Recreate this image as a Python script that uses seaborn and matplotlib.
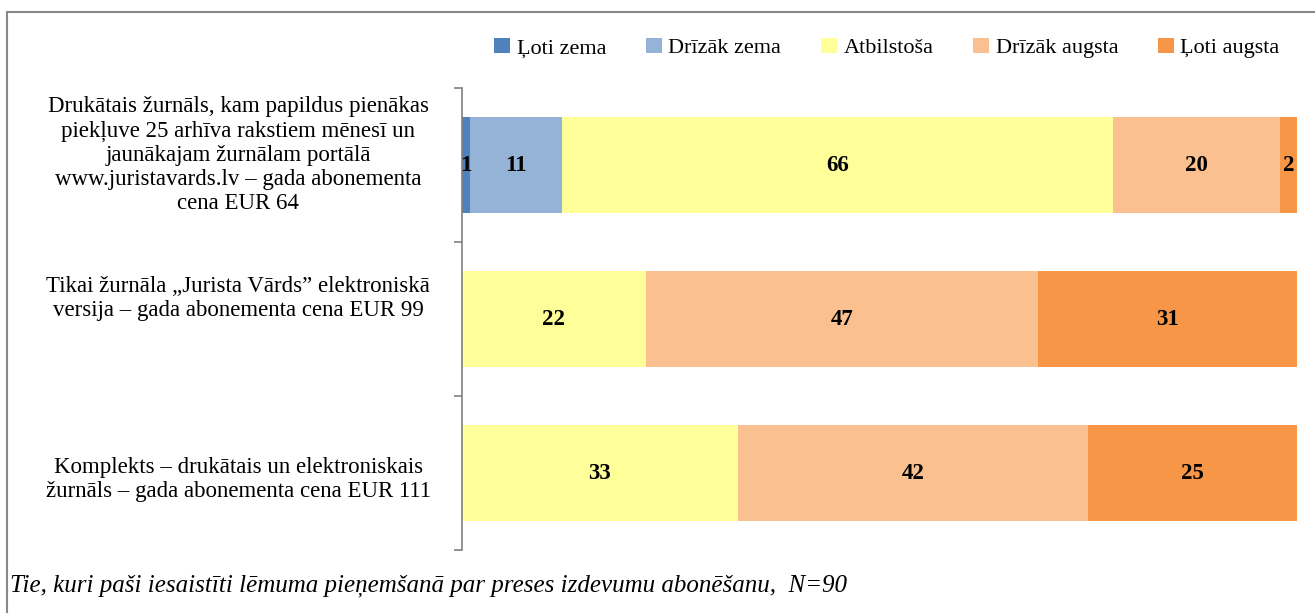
import matplotlib
matplotlib.use("Agg")
import matplotlib.pyplot as plt
import matplotlib.transforms as mtransforms
import seaborn as sns
import numpy as np
import pandas as pd
from matplotlib.lines import Line2D
from matplotlib.patches import Patch

categories = [
    "Drukātais žurnāls, kam papildus pienākas\npiekļuve 25 arhīva rakstiem mēnesī un\njaunākajam žurnālam portālā\nwww.juristavards.lv – gada abonementa\ncena EUR 64",
    "Tikai žurnāla „Jurista Vārds” elektroniskā\nversija – gada abonementa cena EUR 99",
    "Komplekts – drukātais un elektroniskais\nžurnāls – gada abonementa cena EUR 111",
]
series = ["Ļoti zema", "Drīzāk zema", "Atbilstoša", "Drīzāk augsta", "Ļoti augsta"]
loti_zema = [1, 0, 0]
drizak_zema = [11, 0, 0]
atbilstosa = [66, 22, 33]
drizak_augsta = [20, 47, 42]
loti_augsta = [2, 31, 25]
colors = ["#4F81BD", "#95B3D7", "#FFFF99", "#FAC090", "#F79646"]
footnote = "Tie, kuri paši iesaistīti lēmuma pieņemšanā par preses izdevumu abonēšanu,  N=90"

sns.set_theme(style="white")
plt.rcParams["font.family"] = ["Liberation Serif", "DejaVu Serif"]
plt.rcParams["text.color"] = "black"
plt.rcParams["ytick.labelcolor"] = "black"

values = np.array([loti_zema, drizak_zema, atbilstosa, drizak_augsta, loti_augsta], dtype=float)
cum = np.cumsum(values, axis=0)

fig = plt.figure(figsize=(13.15, 6.13), dpi=100)
ax = fig.add_axes([462 / 1315, 1 - 550 / 613, (1297 - 462) / 1315, (550 - 88) / 613])

# stacked bars: draw cumulative totals from largest to smallest
for i in range(len(series) - 1, -1, -1):
    df = pd.DataFrame({"cat": categories, "val": cum[i]})
    sns.barplot(data=df, x="val", y="cat", orient="h", color=colors[i],
                width=0.62, saturation=1, ax=ax, edgecolor="none", linewidth=0)

# labels
for i in range(len(series)):
    for j in range(len(categories)):
        v = values[i, j]
        if v <= 0:
            continue
        x = cum[i, j] - v / 2
        ax.text(x, j, f"{int(v)}", ha="center", va="center",
                fontsize=16.5, fontweight="bold", color="black")

ax.set_xlim(0, 100)
ax.set_ylim(2.5, -0.5)
ax.set_xlabel("")
ax.set_ylabel("")
ax.set_xticks([])
ax.set_yticks([-0.5, 0.5, 1.5, 2.5])
ax.set_yticklabels([])
ax.set_yticks([0, 1, 2], minor=True)
ax.set_yticklabels(categories, minor=True, fontsize=16.5, ha="center",
                   multialignment="center", linespacing=1.2, color="black")
ax.tick_params(axis="y", which="major", length=6, width=1.2, color="#808080",
               direction="out", left=True)
ax.tick_params(axis="y", which="minor", length=0, pad=161)
for s in ["top", "right", "bottom"]:
    ax.spines[s].set_visible(False)
ax.spines["left"].set_color("#808080")
ax.spines["left"].set_linewidth(1.2)

# small vertical nudges of the category labels (in points, positive = up)
nudges = [10, 18, -2]
for lab, dy in zip(ax.get_yticklabels(minor=True), nudges):
    off = mtransforms.ScaledTranslation(0, dy / 72, fig.dpi_scale_trans)
    lab.set_transform(lab.get_transform() + off)

handles = [Patch(facecolor=c, edgecolor="none") for c in colors]
fig.legend(handles, series, loc="center", bbox_to_anchor=(887 / 1315, 1 - 48 / 613),
           ncol=5, frameon=False, fontsize=16, handlelength=0.7, handleheight=0.7,
           handletextpad=0.3, columnspacing=1.8, borderpad=0)

fig.text(10 / 1315, 1 - 586 / 613, footnote, fontsize=18, style="italic",
         ha="left", va="center", color="black")

# border
fig.add_artist(Line2D([7 / 1315, 1.0], [1 - 12 / 613, 1 - 12 / 613],
                      transform=fig.transFigure, color="#888888", lw=1.5))
fig.add_artist(Line2D([7 / 1315, 7 / 1315], [1 - 12 / 613, 0.0],
                      transform=fig.transFigure, color="#888888", lw=1.5))

fig.savefig("out.png", dpi=100)
